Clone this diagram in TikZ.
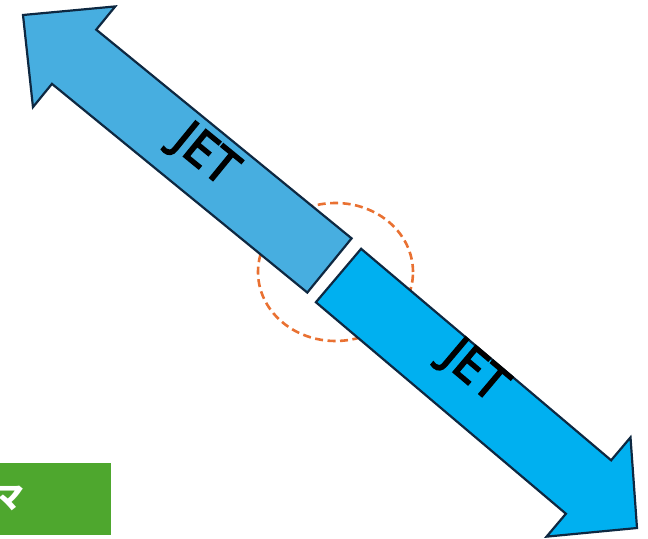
\documentclass[tikz,border=0pt]{standalone}
\usepackage{fontspec}
\newfontfamily\jetfont[FakeBold=3.5]{Open Sans}
\newfontfamily\cjkfont{Noto Sans CJK JP}
\definecolor{outl}{HTML}{0E2841}
\definecolor{blueA}{HTML}{47AEE0}
\definecolor{blueB}{HTML}{00B0F0}
\definecolor{grn}{HTML}{4EA72E}
\definecolor{orng}{HTML}{E97132}
\begin{document}
\begin{tikzpicture}[x=1bp,y=-1bp,
  arrowout/.style={draw=outl, line width=2.2bp, line join=miter},
  jetlabel/.style={font=\jetfont\fontsize{49}{49}\selectfont, text=black, inner sep=0pt}]
\useasboundingbox (0,0) rectangle (648,539);
% green tag
\fill[grn] (-80,463) rectangle (111,535);
\node[text=white, font=\cjkfont\bfseries\fontsize{31}{31}\selectfont, inner sep=0pt] (tm) at (9,498) {マ};
% dashed circle
\draw[orng, line width=2.6bp, dash pattern=on 8bp off 4.5bp] (335.5,272) coordinate (cc) ellipse [x radius=77.5bp, y radius=69bp];
% upper-left arrow
\begin{scope}[shift={(23,15)}, rotate=-39.26]
\draw[arrowout, fill=blueA] (0,0) coordinate (tipA) -- (66,-65) -- (66,-35) -- (395.8,-35) -- (395.8,35) -- (66,35) -- (66,65) -- cycle;
\end{scope}
% lower-right arrow
\begin{scope}[shift={(338.5,275.5)}, rotate=-40.23]
\draw[arrowout, fill=blueB] (0,-35) -- (327.5,-35) -- (327.5,-65) -- (391,0) coordinate (tipB) -- (327.5,65) -- (327.5,35) -- (0,35) -- cycle;
\end{scope}
\node[jetlabel, rotate=-39.3] (jet1) at (204,156.5) {JET};
\node[jetlabel, rotate=-40.2] (jet2) at (473.5,372.5) {JET};
\end{tikzpicture}
\end{document}
